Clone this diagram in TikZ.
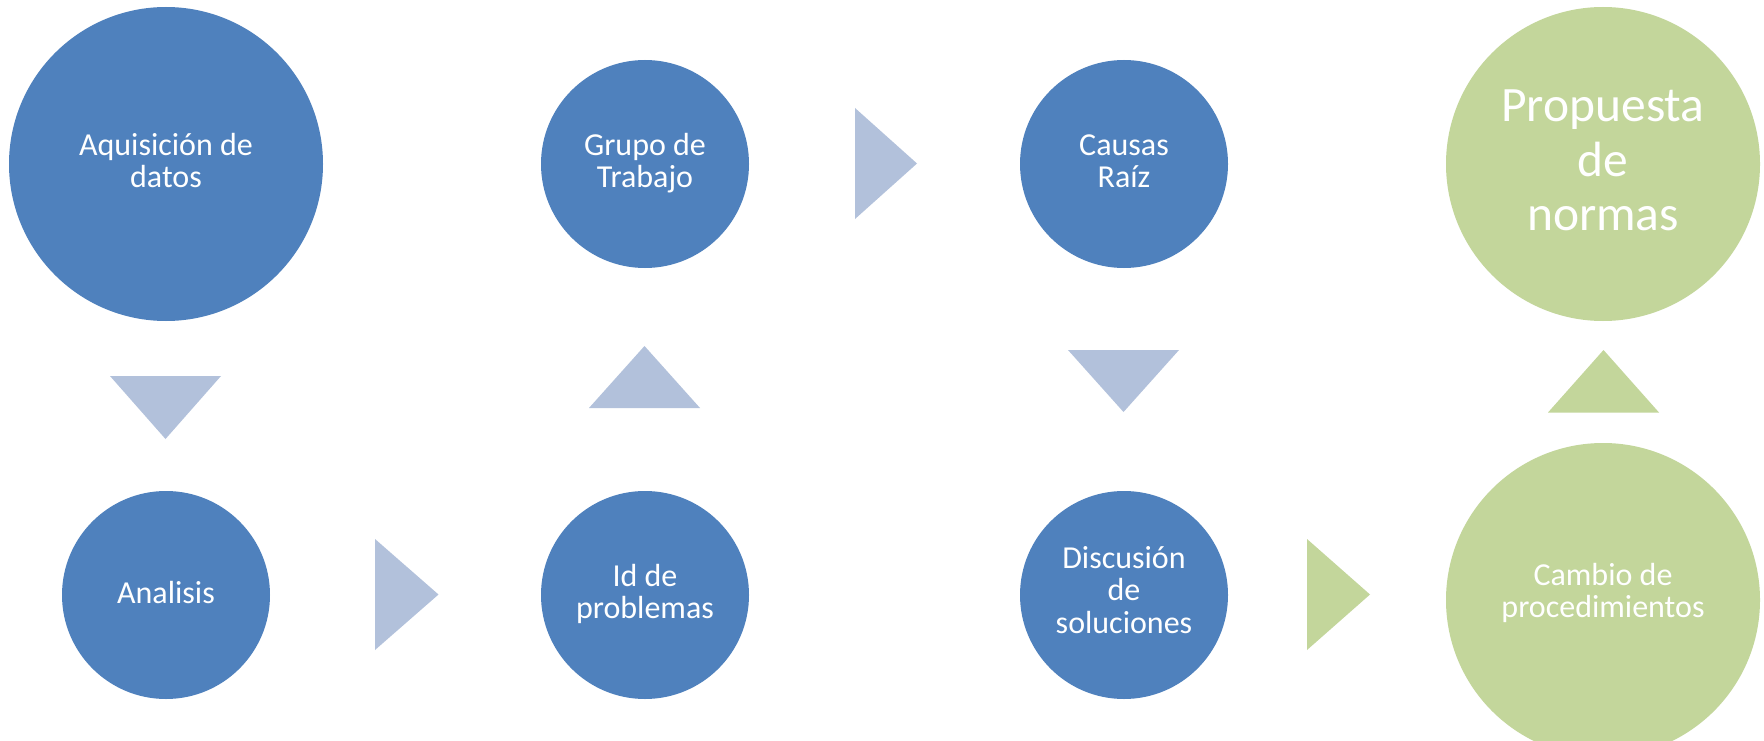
\documentclass[tikz,border=0pt]{standalone}
\usepackage{fontspec}
\setmainfont{Carlito}
\definecolor{cblue}{HTML}{4F81BD}
\definecolor{tblue}{HTML}{B2C1DB}
\definecolor{cgreen}{HTML}{C3D69B}
\newcommand{\lines}[1]{\begin{tabular}[t]{@{}c@{}}#1\end{tabular}}
\begin{document}
\begin{tikzpicture}[x=1pt,y=-1pt,
  circ/.style={circle, inner sep=0pt, draw=none, minimum size=#1},
  bluecirc/.style={circ=#1, fill=cblue},
  greencirc/.style={circ=#1, fill=cgreen},
  txt/.style={text=white, inner sep=0pt, anchor=base, font=\fontsize{32}{32.5}\selectfont},
  bigtxt/.style={txt, font=\fontsize{49.5}{54.5}\selectfont},
  tri/.style={fill=tblue, draw=none},
  trig/.style={fill=cgreen, draw=none}]
\useasboundingbox (0,0) rectangle (1764,741);
\clip (0,0) rectangle (1764,741);
\fill[white] (0,0) rectangle (1764,741);

% circles
\node[bluecirc=314] (c1) at (166,164) {};
\node[bluecirc=208] (c2) at (645,164) {};
\node[bluecirc=208] (c3) at (1124,164) {};
\node[greencirc=314] (c4) at (1603,164) {};
\node[bluecirc=208] (c5) at (166,595) {};
\node[bluecirc=208] (c6) at (645,595) {};
\node[bluecirc=208] (c7) at (1124,595) {};
\node[greencirc=314] (c8) at (1603,600) {};

% texts
\node[txt] (t1) at (166,155) {\lines{Aquisición de\\datos}};
\node[txt] (t2) at (645,155) {\lines{Grupo de\\Trabajo}};
\node[txt] (t3) at (1124,155) {\lines{Causas\\Raíz}};
\node[bigtxt] (t4) at (1603,122) {\lines{Propuesta\\de\\normas}};
\node[txt] (t5) at (166,603) {Analisis};
\node[txt] (t6) at (645,586) {\lines{Id de\\problemas}};
\node[txt] (t7) at (1124,568) {\lines{Discusión\\de\\soluciones}};
\node[txt] (t8) at (1603,585) {\lines{Cambio de\\procedimientos}};

% arrow triangles
\fill[tri] (110,376) -- (221,376) -- (165.5,439) -- cycle;
\fill[tri] (589,408) -- (700,408) -- (644.5,346) -- cycle;
\fill[tri] (855,108) -- (855,219) -- (917,163.5) -- cycle;
\fill[tri] (1068,350) -- (1179,350) -- (1123.5,412) -- cycle;
\fill[trig] (1548,412.5) -- (1659,412.5) -- (1603.5,350) -- cycle;
\fill[tri] (375,539) -- (375,650) -- (438.5,594.5) -- cycle;
\fill[trig] (1307,539) -- (1307,650) -- (1370,594.5) -- cycle;
\end{tikzpicture}
\end{document}
